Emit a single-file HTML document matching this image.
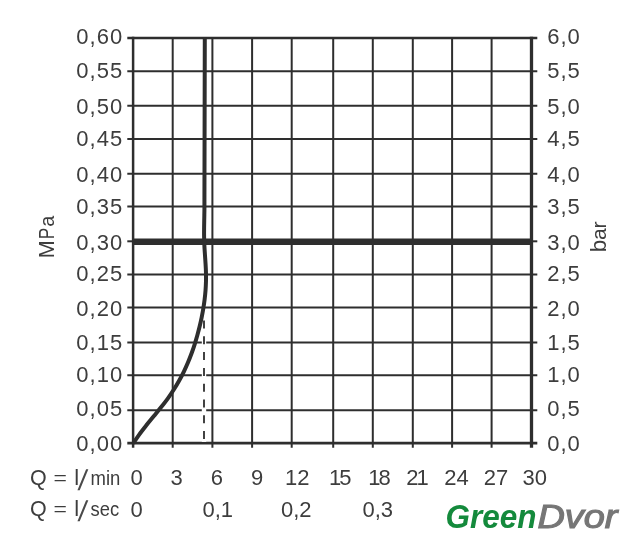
<!DOCTYPE html>
<html lang="en"><head><meta charset="utf-8"><title>Flow diagram</title>
<style>html,body{margin:0;padding:0;background:#fff}svg{display:block;filter:blur(0.45px)}</style></head>
<body>
<svg width="630" height="559" viewBox="0 0 630 559">
<rect width="630" height="559" fill="#ffffff"/>
<g stroke="#2e2e2e" stroke-width="2" fill="none"><line x1="172.7" y1="38.0" x2="172.7" y2="447.8"/><line x1="212.4" y1="38.0" x2="212.4" y2="447.8"/><line x1="252.1" y1="38.0" x2="252.1" y2="447.8"/><line x1="291.7" y1="38.0" x2="291.7" y2="447.8"/><line x1="333.2" y1="38.0" x2="333.2" y2="447.8"/><line x1="372.8" y1="38.0" x2="372.8" y2="447.8"/><line x1="412.8" y1="38.0" x2="412.8" y2="447.8"/><line x1="452.1" y1="38.0" x2="452.1" y2="447.8"/><line x1="491.6" y1="38.0" x2="491.6" y2="447.8"/><line x1="127.3" y1="71.2" x2="537.3" y2="71.2"/><line x1="127.3" y1="105.8" x2="537.3" y2="105.8"/><line x1="127.3" y1="139.1" x2="537.3" y2="139.1"/><line x1="127.3" y1="173.8" x2="537.3" y2="173.8"/><line x1="127.3" y1="206.6" x2="537.3" y2="206.6"/><line x1="127.3" y1="241.3" x2="133.1" y2="241.3"/><line x1="531.5" y1="241.3" x2="537.3" y2="241.3"/><line x1="127.3" y1="274.4" x2="537.3" y2="274.4"/><line x1="127.3" y1="307.4" x2="537.3" y2="307.4"/><line x1="127.3" y1="342.4" x2="537.3" y2="342.4"/><line x1="127.3" y1="375.3" x2="537.3" y2="375.3"/><line x1="127.3" y1="410.3" x2="537.3" y2="410.3"/></g>
<g stroke="#2e2e2e" fill="none"><line x1="127.3" y1="38.0" x2="537.3" y2="38.0" stroke-width="2.5"/><line x1="127.3" y1="443.2" x2="537.3" y2="443.2" stroke-width="2.7"/><line x1="133.1" y1="36.8" x2="133.1" y2="447.8" stroke-width="2.5"/><line x1="531.5" y1="36.8" x2="531.5" y2="447.8" stroke-width="3.3"/></g>
<line x1="132.29999999999998" y1="241.7" x2="532.5" y2="241.7" stroke="#2e2e2e" stroke-width="6.4"/>
<line x1="204" y1="319.5" x2="204" y2="441.9" stroke="#ffffff" stroke-width="4.4"/>
<line x1="204" y1="320.5" x2="204" y2="439.4" stroke="#2e2e2e" stroke-width="1.8" stroke-dasharray="8 7.8"/>
<path d="M133.30 443.30 C134.32 441.80 137.22 437.30 139.39 434.30 C141.56 431.30 143.95 428.30 146.33 425.30 C148.71 422.30 151.23 419.30 153.68 416.30 C156.13 413.30 158.65 410.30 161.02 407.30 C163.39 404.30 165.75 401.30 167.92 398.30 C170.09 395.30 172.13 392.30 174.04 389.30 C175.94 386.30 177.70 383.30 179.36 380.30 C181.02 377.30 182.55 374.30 184.00 371.30 C185.46 368.30 186.80 365.30 188.06 362.30 C189.33 359.30 190.50 356.30 191.60 353.30 C192.70 350.30 193.71 347.30 194.67 344.30 C195.62 341.30 196.50 338.30 197.34 335.30 C198.17 332.30 198.94 329.30 199.67 326.30 C200.39 323.30 201.07 320.30 201.68 317.30 C202.29 314.30 202.86 311.30 203.35 308.30 C203.84 305.30 204.28 302.30 204.64 299.30 C205.00 296.30 205.30 293.30 205.53 290.30 C205.75 287.30 205.90 284.30 205.98 281.30 C206.05 278.30 206.03 275.30 205.96 272.30 C205.89 269.30 205.71 266.30 205.53 263.30 C205.36 260.30 205.12 257.30 204.92 254.30 C204.73 251.30 204.51 248.30 204.37 245.30 C204.23 242.30 204.13 239.30 204.09 236.30 C204.05 233.30 204.08 230.30 204.11 227.30 C204.14 224.30 204.21 221.30 204.27 218.30 C204.32 215.30 204.40 212.30 204.43 209.30 C204.45 206.30 204.43 201.85 204.43 200.30 C204.43 198.75 204.43 200.05 204.43 200.00 L204.8 37.0" stroke="#2e2e2e" stroke-width="4" fill="none" stroke-linejoin="round"/>
<g font-family="'Liberation Sans', sans-serif" font-size="22" fill="#3d3d3d"><text x="123.2" y="44.0" text-anchor="end" letter-spacing="1">0,60</text><text x="547.2" y="44.0" letter-spacing="1">6,0</text><text x="123.2" y="77.9" text-anchor="end" letter-spacing="1">0,55</text><text x="547.2" y="77.9" letter-spacing="1">5,5</text><text x="123.2" y="113.9" text-anchor="end" letter-spacing="1">0,50</text><text x="547.2" y="113.9" letter-spacing="1">5,0</text><text x="123.2" y="145.7" text-anchor="end" letter-spacing="1">0,45</text><text x="547.2" y="145.7" letter-spacing="1">4,5</text><text x="123.2" y="182.2" text-anchor="end" letter-spacing="1">0,40</text><text x="547.2" y="182.2" letter-spacing="1">4,0</text><text x="123.2" y="213.5" text-anchor="end" letter-spacing="1">0,35</text><text x="547.2" y="213.5" letter-spacing="1">3,5</text><text x="123.2" y="249.5" text-anchor="end" letter-spacing="1">0,30</text><text x="547.2" y="249.5" letter-spacing="1">3,0</text><text x="123.2" y="281.3" text-anchor="end" letter-spacing="1">0,25</text><text x="547.2" y="281.3" letter-spacing="1">2,5</text><text x="123.2" y="315.7" text-anchor="end" letter-spacing="1">0,20</text><text x="547.2" y="315.7" letter-spacing="1">2,0</text><text x="123.2" y="350.0" text-anchor="end" letter-spacing="1">0,15</text><text x="547.2" y="350.0" letter-spacing="1">1,5</text><text x="123.2" y="382.3" text-anchor="end" letter-spacing="1">0,10</text><text x="547.2" y="382.3" letter-spacing="1">1,0</text><text x="123.2" y="415.9" text-anchor="end" letter-spacing="1">0,05</text><text x="547.2" y="415.9" letter-spacing="1">0,5</text><text x="123.2" y="451.4" text-anchor="end" letter-spacing="1">0,00</text><text x="547.2" y="451.4" letter-spacing="1">0,0</text><text x="136.5" y="485.2" text-anchor="middle">0</text><text x="176.7" y="485.2" text-anchor="middle">3</text><text x="216.9" y="485.2" text-anchor="middle">6</text><text x="257" y="485.2" text-anchor="middle">9</text><text x="297.2" y="485.2" text-anchor="middle">12</text><text x="339.2" y="485.2" text-anchor="middle" letter-spacing="-2">15</text><text x="378.4" y="485.2" text-anchor="middle" letter-spacing="-2">18</text><text x="416.6" y="485.2" text-anchor="middle" letter-spacing="-2">21</text><text x="456.6" y="485.2" text-anchor="middle">24</text><text x="496" y="485.2" text-anchor="middle">27</text><text x="534.8" y="485.2" text-anchor="middle">30</text><text x="136.5" y="517.1" text-anchor="middle">0</text><text x="217.8" y="517.1" text-anchor="middle">0,1</text><text x="296.3" y="517.1" text-anchor="middle">0,2</text><text x="377.8" y="517.1" text-anchor="middle">0,3</text><text y="485.0" font-size="21.5"><tspan x="29.9">Q</tspan> <tspan x="53.6" dy="-1.4" font-size="17.5" textLength="13.4" lengthAdjust="spacingAndGlyphs">=</tspan> <tspan x="74.3" dy="1.4" font-size="22">l</tspan></text><text transform="translate(77.6 489.6) skewX(-8)" font-size="28.5" fill="#4a4a4a">/</text><text x="90.6" y="485.0" font-size="20" textLength="29.8" lengthAdjust="spacingAndGlyphs">min</text><text y="516.4" font-size="21.5"><tspan x="29.9">Q</tspan> <tspan x="53.6" dy="-1.4" font-size="17.5" textLength="13.4" lengthAdjust="spacingAndGlyphs">=</tspan> <tspan x="74.3" dy="1.4" font-size="22">l</tspan></text><text transform="translate(77.6 521.0) skewX(-8)" font-size="28.5" fill="#4a4a4a">/</text><text x="90.6" y="516.4" font-size="20" textLength="28.6" lengthAdjust="spacingAndGlyphs">sec</text><text transform="translate(54 256.6) rotate(-90)" font-size="21.5"><tspan x="-1.6">M</tspan><tspan x="17.3" textLength="11.5" lengthAdjust="spacingAndGlyphs">P</tspan><tspan x="29.9" font-size="20">a</tspan></text><text transform="translate(606.3 250.9) rotate(-90)" font-size="21"><tspan x="-1.3" font-size="22.5">b</tspan><tspan x="11">a</tspan><tspan x="22.4">r</tspan></text></g>
<g font-family="'Liberation Sans', sans-serif" font-size="33" font-style="italic"><text x="445.6" y="528.2" font-weight="bold" fill="#148a3c" textLength="91" lengthAdjust="spacingAndGlyphs">Green</text><text x="537.4" y="528.2" font-weight="normal" fill="#767676" stroke="#767676" stroke-width="1.1" textLength="80" lengthAdjust="spacingAndGlyphs">Dvor</text></g>
</svg>
</body></html>
